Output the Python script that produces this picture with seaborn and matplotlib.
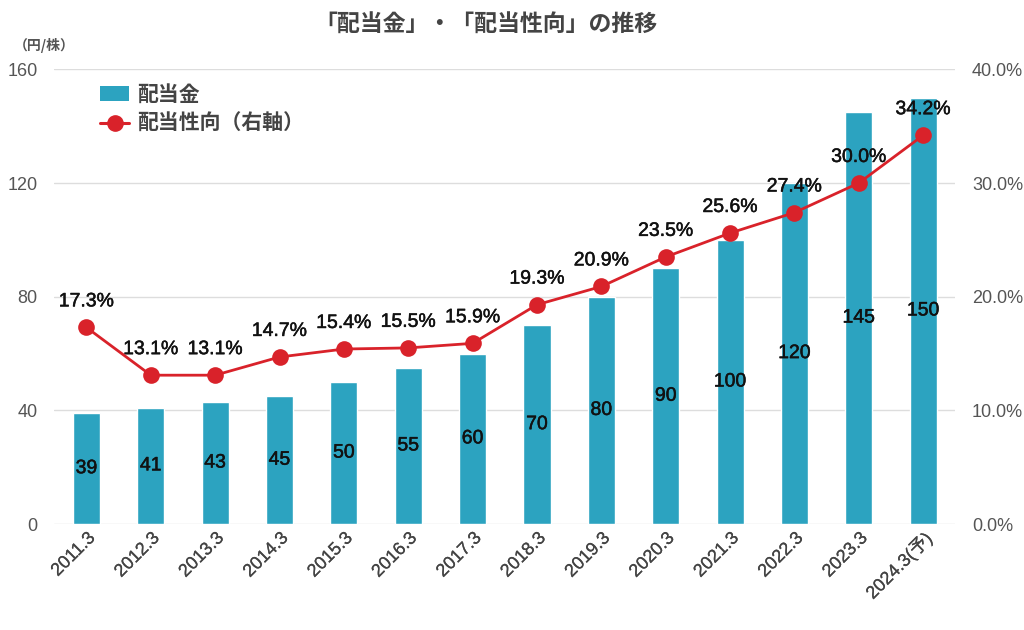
import numpy as np
import pandas as pd
import matplotlib
matplotlib.use("Agg")
import matplotlib.pyplot as plt
import matplotlib.patheffects as pe
import seaborn as sns
from matplotlib.patches import Patch
from matplotlib.lines import Line2D

categories = ["2011.3", "2012.3", "2013.3", "2014.3", "2015.3", "2016.3", "2017.3",
              "2018.3", "2019.3", "2020.3", "2021.3", "2022.3", "2023.3", "2024.3(予)"]
dividends = [39, 41, 43, 45, 50, 55, 60, 70, 80, 90, 100, 120, 145, 150]
payout = [17.3, 13.1, 13.1, 14.7, 15.4, 15.5, 15.9, 19.3, 20.9, 23.5, 25.6, 27.4, 30.0, 34.2]
left_ticks = [0, 40, 80, 120, 160]
right_ticks = [0, 10, 20, 30, 40]

sns.set_theme(style="white")
plt.rcParams['font.family'] = ['Liberation Sans', 'Noto Sans CJK JP']

BAR = "#2ca3c0"
RED = "#d9222a"
GRAY = "#555555"
semi = [pe.withStroke(linewidth=0.35, foreground="#111111")]
semi_gray = [pe.withStroke(linewidth=0.15, foreground="#444444")]

fig = plt.figure(figsize=(10.24, 6.30), dpi=100)
ax = fig.add_axes([0.053, 0.168, 0.880, 0.722])

df = pd.DataFrame({"cat": categories, "div": dividends, "pay": payout})
sns.barplot(data=df, x="cat", y="div", color=BAR, width=0.42, saturation=1, ax=ax)
ax.set_ylim(0, 160)
ax.set_yticks(left_ticks)
ax.set_xlim(-0.5, len(categories) - 0.5)
ax.set_xlabel("")
ax.set_ylabel("")
for y in left_ticks:
    ax.axhline(y, color="#dddddd", lw=1, zorder=0)
for s in ax.spines.values():
    s.set_visible(False)
ax.tick_params(axis="y", labelsize=13, labelcolor=GRAY, length=0, pad=12)
ax.tick_params(axis="x", labelsize=13, labelcolor="#444444", length=0, pad=4)
plt.setp(ax.get_xticklabels(), rotation=45, ha="right", rotation_mode="anchor",
         path_effects=semi_gray)

for i, v in enumerate(dividends):
    ax.text(i, v / 2, f"{v}", ha="center", va="center", fontsize=14,
            color="#111111", family=["Liberation Sans"], path_effects=semi)

ax2 = ax.twinx()
sns.lineplot(x=np.arange(len(categories)), y=payout, ax=ax2, color=RED, lw=2.0,
             marker="o", markersize=12, markeredgewidth=0, zorder=5)
ax2.set_ylim(0, 40)
ax2.set_yticks(right_ticks)
ax2.set_yticklabels([f"{t:.1f}%" for t in right_ticks])
ax2.tick_params(axis="y", labelsize=13, labelcolor=GRAY, length=0, pad=12)
for s in ax2.spines.values():
    s.set_visible(False)
ax2.grid(False)
for i, v in enumerate(payout):
    ax2.text(i, v + 1.5, f"{v:.1f}%", ha="center", va="bottom", fontsize=14,
             color="#111111", family=["Liberation Sans"], path_effects=semi)

fig.text(0.475, 0.962, "「配当金」・「配当性向」の推移", ha="center", va="center",
         fontsize=16.5, fontweight="bold", color="#444444", family=["Noto Sans CJK JP"])
fig.text(0.043, 0.928, "（円/株）", ha="center", va="center", fontsize=10,
         color=GRAY, fontweight="bold", family=["Noto Sans CJK JP"])

handles = [Patch(facecolor=BAR, edgecolor="none"),
           Line2D([0], [0], color=RED, lw=2.2, marker="o", markersize=11)]
leg = ax.legend(handles, ["配当金", "配当性向（右軸）"], loc="upper left",
                bbox_to_anchor=(0.03, 1.01), frameon=False,
                handlelength=1.4, handletextpad=0.4, labelspacing=0.4,
                prop={"family": ["Noto Sans CJK JP"], "size": 15, "weight": "bold"})
for t in leg.get_texts():
    t.set_color("#444444")

fig.savefig("out.png", dpi=100, facecolor="white")
